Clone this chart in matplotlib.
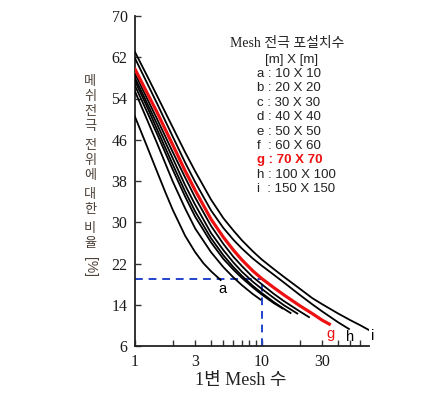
import matplotlib
matplotlib.use("Agg")
import matplotlib.pyplot as plt

# readings from the picture: x = 1변 Mesh 수 (log), y = ratio [%]
a_x = [1, 1.25, 1.5, 1.75, 2, 2.5, 3, 3.5, 4, 4.76]
a_y = [50.7, 44.8, 39.9, 35.8, 32.4, 27.4, 24.2, 22.0, 20.5, 18.8]
b_x = [1, 1.25, 1.5, 2, 2.5, 3, 4, 5, 6, 7, 8.5, 9.8]
b_y = [55.6, 50.0, 45.4, 37.9, 32.7, 28.8, 24.2, 21.3, 19.3, 17.8, 16.1, 15.0]
c_x = [1, 1.25, 1.5, 2, 2.5, 3, 4, 5, 6, 7, 8.5, 10, 12.5, 14.6]
c_y = [56.7, 51.5, 47.2, 40.2, 35.0, 31.1, 26.1, 22.9, 20.8, 19.2, 17.4, 16.0, 14.3, 13.3]
d_x = [1, 1.25, 1.5, 2, 2.5, 3, 4, 5, 6, 7, 8.5, 10, 12.5, 15, 16.9]
d_y = [57.6, 52.5, 48.1, 41.2, 36.0, 32.1, 26.9, 23.6, 21.3, 19.6, 17.7, 16.3, 14.5, 13.2, 12.4]
e_x = [1, 1.25, 1.5, 2, 2.5, 3, 4, 5, 6, 7, 8.5, 10, 12.5, 15, 19.1]
e_y = [58.2, 53.2, 49.1, 42.4, 37.2, 33.4, 27.9, 24.6, 22.2, 20.4, 18.5, 17.1, 15.3, 13.9, 12.3]
f_x = [1, 1.25, 1.5, 2, 2.5, 3, 4, 5, 6, 7, 8.5, 10, 12.5, 15, 20, 23.6]
f_y = [59.0, 54.1, 50.1, 43.6, 38.7, 34.8, 29.3, 25.8, 23.3, 21.5, 19.4, 18.0, 16.1, 14.7, 12.7, 11.6]
g_x = [1, 1.25, 1.5, 2, 2.5, 3, 4, 5, 6, 7, 8.5, 10, 12.5, 15, 20, 25, 30, 35]
g_y = [59.9, 55.2, 51.4, 45.0, 40.0, 36.2, 30.6, 27.1, 24.6, 22.7, 20.6, 19.1, 17.3, 15.9,
       13.8, 12.3, 11.0, 10.1]
h_x = [1, 1.25, 1.5, 2, 2.5, 3, 4, 5, 6, 7, 8.5, 10, 12.5, 15, 20, 25, 30, 40, 48.7]
h_y = [62.0, 57.1, 53.1, 46.6, 41.6, 37.8, 32.3, 28.9, 26.6, 24.9, 23.0, 21.6, 19.8, 18.3,
       15.9, 14.1, 12.7, 10.6, 9.3]
i_x = [1, 1.25, 1.5, 2, 2.5, 3, 4, 5, 6, 7, 8.5, 10, 12.5, 15, 20, 25, 30, 40, 50, 60, 69.9]
i_y = [63.2, 58.5, 54.6, 48.4, 43.6, 39.9, 34.4, 30.8, 28.4, 26.5, 24.4, 22.8, 20.9, 19.4,
       17.1, 15.3, 14.1, 12.3, 11.0, 10.0, 9.1]

mesh_names = ["a", "b", "c", "d", "e", "f", "g", "h", "i"]
mesh_sizes = [10, 20, 30, 40, 50, 60, 70, 100, 150]
highlight = "g"
mark_x = 10
mark_y = 19

x_ticks = [1, 3, 10, 30]
x_minor = [2, 4, 5, 6, 7, 8, 9, 20, 40, 50, 60]
y_ticks = [6, 14, 22, 30, 38, 46, 54, 62, 70]
ylabel_text = "메쉬전극 전위에 대한 비율"

W, H = 425, 397
fig = plt.figure(figsize=(W / 100, H / 100), dpi=100)
ax = fig.add_axes([134.5 / W, 1 - 346 / H, (369 - 134.5) / W, (346 - 16) / H])

serif = ["Liberation Serif", "Noto Sans CJK KR"]
sans = ["Liberation Sans", "Noto Sans CJK KR"]


def px(x, y):
    # figure pixel coords (top-left origin) -> figure fraction
    return x / W, 1 - y / H


curves = {
    "a": (a_x, a_y), "b": (b_x, b_y), "c": (c_x, c_y),
    "d": (d_x, d_y), "e": (e_x, e_y), "f": (f_x, f_y),
    "g": (g_x, g_y), "h": (h_x, h_y), "i": (i_x, i_y),
}
for name in mesh_names:
    xs, ys = curves[name]
    if name == highlight:
        ax.plot(xs, ys, color="#ee1111", lw=2.3, zorder=4, solid_capstyle="butt")
    else:
        ax.plot(xs, ys, color="black", lw=1.3, zorder=3)

# guide lines for g at 10
blue = "#2244cc"
ax.plot([1, mark_x], [mark_y, mark_y], color=blue, lw=1.4, ls=(0, (4, 3)), zorder=2)
ax.plot([mark_x, mark_x], [6, mark_y], color=blue, lw=1.4, ls=(0, (4, 3)), zorder=2)

# curve end labels
label_off = {"a": (1.5, -6.5), "g": (0, -6.5), "h": (1, -6), "i": (3, -4)}
for name, off in label_off.items():
    xs, ys = curves[name]
    ax.annotate(name, (xs[-1], ys[-1]), xytext=off, textcoords="offset points",
                ha="center", va="center", fontsize=10.5, family=sans,
                color="#ee1111" if name == highlight else "black")

ax.set_xscale("log")
ax.set_xlim(1, 70)
ax.set_ylim(6, 70)
ax.set_xticks(x_ticks)
ax.set_xticklabels([str(t) for t in x_ticks])
ax.set_xticks(x_minor, minor=True)
ax.set_xticklabels([], minor=True)
ax.set_yticks(y_ticks)
ax.set_yticklabels([str(t) for t in y_ticks])
ax.tick_params(which="both", direction="in", length=4, width=1, color="#333333")
ax.tick_params(axis="x", pad=6)
ax.tick_params(axis="y", pad=5)
for lab in ax.get_xticklabels() + ax.get_yticklabels():
    lab.set_family(serif)
    lab.set_fontsize(11.5)
    lab.set_color("#1a1a1a")

for s in ["top", "right"]:
    ax.spines[s].set_visible(False)
for s in ["left", "bottom"]:
    ax.spines[s].set_linewidth(1.3)
    ax.spines[s].set_color("#222222")

# vertical y label, one glyph under the other
lab_color = "#4d4238"
yy = 82
for ch in ylabel_text:
    if ch == " ":
        yy += 4
        continue
    fig.text(*px(90, yy), ch, ha="center", va="center", fontsize=9.5,
             family=sans, color=lab_color)
    yy += 15
fig.text(*px(90, yy + 4 + 4), "[%]", ha="center", va="center", rotation=-90,
         fontsize=10, family=sans, color=lab_color)

fig.text(*px(241, 381), "1변 Mesh 수", ha="center", va="center",
         fontsize=13, family=serif, color="#222222")

# legend block
fig.text(*px(287, 44), "Mesh 전극 포설치수", ha="center", va="center",
         fontsize=10, family=serif, color="#222222")
fig.text(*px(292, 60), "[m] X [m]", ha="center", va="center",
         fontsize=9.5, family=sans, color="#222222")
for k, (name, size) in enumerate(zip(mesh_names, mesh_sizes)):
    gap = "  " if name in ("f", "i") else " "
    txt = f"{name}{gap}: {size} X {size}"
    if name == highlight:
        fig.text(*px(257, 74 + 14.4 * k), txt, ha="left", va="center",
                 fontsize=9.5, family=sans, color="#ee1111", weight="bold")
    else:
        fig.text(*px(257, 74 + 14.4 * k), txt, ha="left", va="center",
                 fontsize=9.5, family=sans, color="#222222")

fig.savefig("out.png", dpi=100)
